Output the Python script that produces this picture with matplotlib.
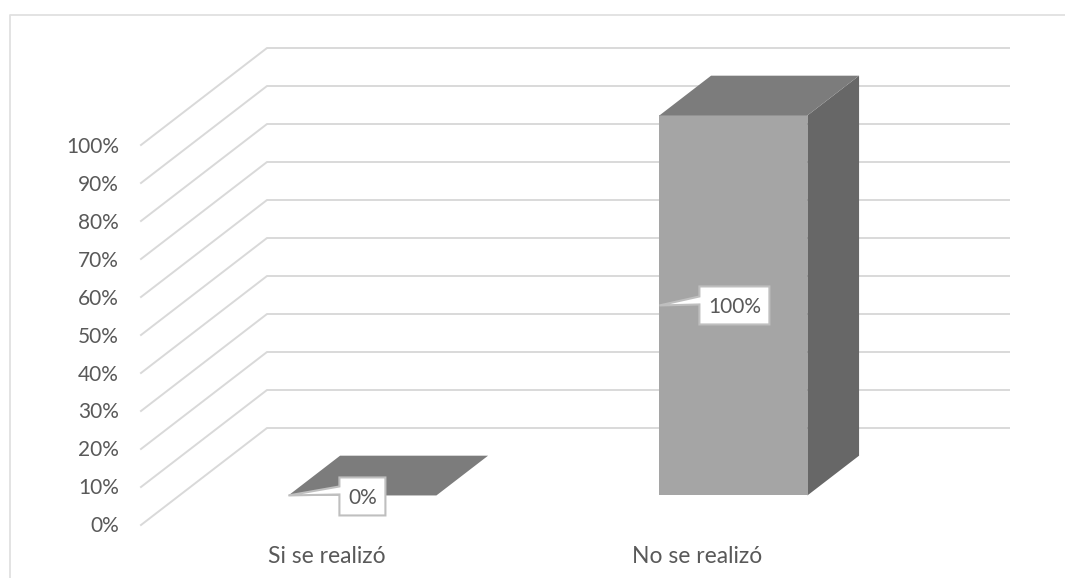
import matplotlib
matplotlib.use('Agg')
import matplotlib.pyplot as plt
from matplotlib.patches import Polygon
from matplotlib.transforms import ScaledTranslation

categorias = ['Si se realizó', 'No se realizó']
valores = [0, 100]
ticks = [0, 10, 20, 30, 40, 50, 60, 70, 80, 90, 100]
etiquetas = ['0%', '10%', '20%', '30%', '40%', '50%', '60%', '70%', '80%', '90%', '100%']

plt.rcParams['font.family'] = ['Lato', 'DejaVu Sans']

W, H = 1065, 578
fig = plt.figure(figsize=(W / 100, H / 100), dpi=100)

# plano frontal del eje, en pixeles: x 141-883, y 525-145
ax = fig.add_axes([141 / W, 1 - 525 / H, 742 / W, 380 / H])
ax.set_xlim(-0.5, 1.5)
ax.set_ylim(0, 100)
ax.axis('off')

# profundidad oblicua en unidades de datos
DX = 126 / 371
DY = 97 / 3.8
ANCHO = 148 / 371
INI = 0.285   # donde empieza la barra dentro de la profundidad
PROF = 0.41   # cuanto ocupa
ELEV = 0.5    # la barra queda un poco mas arriba del suelo

GRIS = '#D9D9D9'
TXT = '#595959'
FS = 15

# marco del grafico
fig.add_artist(plt.Line2D([9.5 / W, 9.5 / W, 1], [0, 1 - 15 / H, 1 - 15 / H], color='#E0E0E0', lw=1.3))

# rejilla
baja = ax.transData + ScaledTranslation(-22 / 100, -1.5 / 100, fig.dpi_scale_trans)
for t, lab in zip(ticks, etiquetas):
    ax.plot([-0.5, -0.5 + DX, 1.5 + DX], [t, t + DY, t + DY], color=GRIS, lw=1.4, clip_on=False, zorder=1)
    ax.text(-0.5, t, lab, ha='right', va='center', fontsize=FS, color=TXT, transform=baja)


def punto(x, v, d):
    return (x + d * DX, v + d * DY + ELEV)


def callout(tip, x0, y0, x1, y1, texto):
    # caja con pico, en pixeles relativos a la punta
    px, py = ax.transData.transform(tip)
    pts = [(0, 0), (x0, 1), (x0, y0), (x1, y0), (x1, y1), (x0, y1), (x0, 9)]
    pts = [(px + a, py + b) for a, b in pts]
    ax.add_patch(Polygon(pts, closed=True, transform=None, fc='white', ec='#BFBFBF', lw=1.5, zorder=6, clip_on=False))
    fig.text((px + (x0 + x1) / 2) / W, (py + (y0 + y1) / 2 - 2) / H, texto, ha='center', va='center',
             fontsize=FS, color=TXT, zorder=7)


for i, (v, cat) in enumerate(zip(valores, categorias)):
    x0 = i - ANCHO / 2
    x1 = i + ANCHO / 2
    a = INI
    b = INI + PROF
    if v > 0:
        ax.add_patch(Polygon([punto(x0, 0, a), punto(x1, 0, a), punto(x1, v, a), punto(x0, v, a)],
                             fc='#A5A5A5', ec='none', zorder=3, clip_on=False))
        ax.add_patch(Polygon([punto(x1, 0, a), punto(x1, 0, b), punto(x1, v, b), punto(x1, v, a)],
                             fc='#676767', ec='none', zorder=3, clip_on=False))
    ax.add_patch(Polygon([punto(x0, v, a), punto(x1, v, a), punto(x1, v, b), punto(x0, v, b)],
                         fc='#7C7C7C', ec='none', zorder=3, clip_on=False))
    ax.text(i, -8.4, cat, ha='center', va='center', fontsize=16.5, color=TXT, clip_on=False)

    tip = punto(x0, v / 2, a)
    if v > 0:
        callout(tip, 40, -19, 110, 19, etiquetas[ticks.index(v)])
    else:
        callout(tip, 51, -20, 97, 18, etiquetas[ticks.index(v)])

fig.savefig('out.png', dpi=100)
